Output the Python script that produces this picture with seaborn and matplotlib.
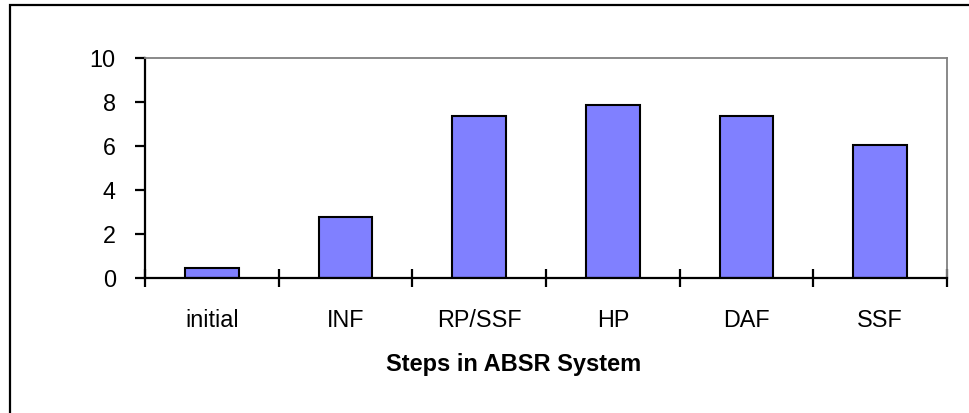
import matplotlib
matplotlib.use("Agg")
import matplotlib.pyplot as plt
from matplotlib.patches import Rectangle
from matplotlib.ticker import FixedLocator
import pandas as pd
import seaborn as sns

# data
steps = ["initial", "INF", "RP/SSF", "HP", "DAF", "SSF"]
values = [0.45, 2.75, 7.35, 7.85, 7.35, 6.03]
y_ticks = [0, 2, 4, 6, 8, 10]

df = pd.DataFrame({"step": steps, "value": values})

sns.set_style("white")
plt.rcParams['font.family'] = ['Liberation Sans', 'DejaVu Sans']
plt.rcParams['text.color'] = 'black'
plt.rcParams['xtick.color'] = 'black'
plt.rcParams['ytick.color'] = 'black'
plt.rcParams['xtick.labelcolor'] = 'black'
plt.rcParams['ytick.labelcolor'] = 'black'

W, H = 969, 413
fig = plt.figure(figsize=(W / 100, H / 100), dpi=100)

# axes box in pixel coords: left 145, right 947, top 58, bottom 278
ax = fig.add_axes([145 / W, (H - 278) / H, (947 - 145) / W, (278 - 58) / H])

sns.barplot(data=df, x="step", y="value", ax=ax, color="#8080FF", saturation=1,
            width=0.4, edgecolor="black", linewidth=1.5)

ax.set_xlim(-0.5, len(steps) - 0.5)
ax.set_ylim(0, 10)
ax.set_yticks(y_ticks)
ax.set_xlabel("")
ax.set_ylabel("")

# spines: black left/bottom, grey top/right
for side in ["left", "bottom"]:
    ax.spines[side].set_color("black")
    ax.spines[side].set_linewidth(1.6)
for side in ["top", "right"]:
    ax.spines[side].set_color("#808080")
    ax.spines[side].set_linewidth(1.3)
    ax.spines[side].set_visible(True)

ax.tick_params(axis="y", direction="out", length=7, width=1.6, colors="black",
               labelsize=16.8, pad=14, left=True)
ax.tick_params(axis="x", which="major", length=0, labelsize=16.8, pad=22,
               colors="black")
ax.xaxis.set_minor_locator(FixedLocator([i - 0.5 for i in range(len(steps) + 1)]))
ax.tick_params(axis="x", which="minor", direction="inout", length=13, width=1.6,
               color="black", bottom=True)

fig.text(514 / W, (H - 365) / H, "Steps in ABSR System", ha="center", va="center",
         fontsize=17, fontweight="bold", color="black")

# outer chart border (only left and top edges are inside the image)
fig.patches.append(Rectangle((9.5 / W, -0.05), 1.2, 1 - 5.5 / H + 0.05,
                             transform=fig.transFigure, fill=False,
                             edgecolor="black", linewidth=1.6))

fig.savefig("out.png", dpi=100)
